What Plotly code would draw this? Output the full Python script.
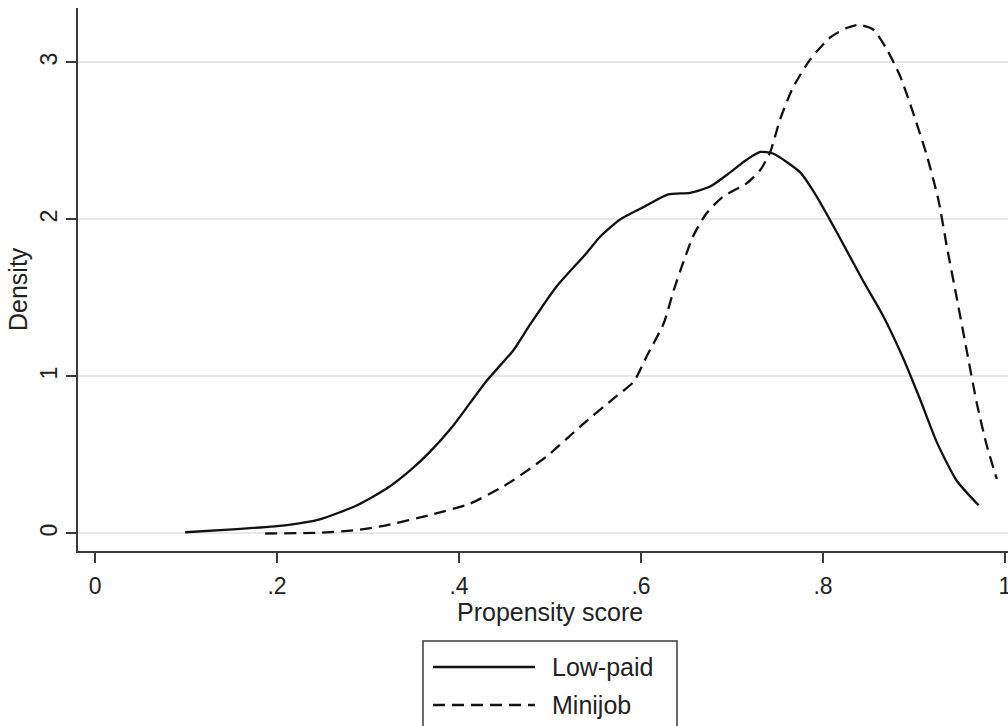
import plotly.graph_objects as go

# ---- data ----
lowpaid_x = [0.099, 0.156, 0.211, 0.247, 0.288, 0.321, 0.346, 0.368, 0.394, 0.412,
             0.430, 0.460, 0.478, 0.507, 0.540, 0.555, 0.577, 0.603, 0.630, 0.654,
             0.676, 0.698, 0.716, 0.731, 0.745, 0.775, 0.793, 0.815, 0.844, 0.866,
             0.888, 0.907, 0.925, 0.947, 0.971]
lowpaid_y = [0.008, 0.028, 0.054, 0.090, 0.180, 0.288, 0.400, 0.520, 0.690, 0.830,
             0.970, 1.169, 1.330, 1.572, 1.785, 1.890, 2.000, 2.080, 2.160, 2.170,
             2.210, 2.300, 2.380, 2.430, 2.420, 2.300, 2.147, 1.920, 1.610, 1.387,
             1.118, 0.850, 0.582, 0.336, 0.180]

minijob_x = [0.187, 0.247, 0.288, 0.321, 0.368, 0.412, 0.445, 0.460, 0.496, 0.533,
             0.570, 0.592, 0.606, 0.625, 0.636, 0.646, 0.657, 0.672, 0.690, 0.716,
             0.731, 0.742, 0.753, 0.767, 0.786, 0.808, 0.826, 0.839, 0.855, 0.870,
             0.885, 0.899, 0.914, 0.927, 0.936, 0.947, 0.958, 0.969, 0.980, 0.991]
minijob_y = [0.000, 0.005, 0.022, 0.054, 0.118, 0.190, 0.288, 0.341, 0.489, 0.680,
             0.861, 0.967, 1.126, 1.339, 1.550, 1.720, 1.890, 2.040, 2.145, 2.230,
             2.315, 2.430, 2.640, 2.840, 3.020, 3.160, 3.220, 3.240, 3.210, 3.085,
             2.910, 2.680, 2.410, 2.120, 1.830, 1.500, 1.163, 0.830, 0.560, 0.347]

x_ticks = [0, 0.2, 0.4, 0.6, 0.8, 1.0]
x_ticklabels = ["0", ".2", ".4", ".6", ".8", "1"]
y_ticks = [0, 1, 2, 3]
y_ticklabels = ["0", "1", "2", "3"]

series_names = ["Low-paid", "Minijob"]
x_title = "Propensity score"
y_title = "Density"

FONT = "Liberation Sans, Arial, sans-serif"
TXT = "#222222"
AX = "#3a3a3a"

fig = go.Figure()
fig.add_trace(go.Scatter(x=lowpaid_x, y=lowpaid_y, mode="lines", name=series_names[0],
                         line=dict(color="#111111", width=2.3, shape="spline", smoothing=0.6),
                         showlegend=False))
fig.add_trace(go.Scatter(x=minijob_x, y=minijob_y, mode="lines", name=series_names[1],
                         line=dict(color="#111111", width=2.3, dash="12px,7px",
                                   shape="spline", smoothing=0.6),
                         showlegend=False))

fig.update_layout(
    template="none",
    width=1008, height=726,
    margin=dict(l=78, r=0, t=8, b=175, pad=0),
    paper_bgcolor="white", plot_bgcolor="white",
    font=dict(family=FONT, color=TXT, size=23),
    showlegend=False,
    xaxis=dict(range=[-0.0187, 1.0033], tickvals=x_ticks, ticktext=x_ticklabels,
               showgrid=False, zeroline=False, showline=True, linecolor=AX, linewidth=1.5,
               ticks="outside", ticklen=10, tickwidth=1.5, tickcolor=AX,
               ticklabeloverflow="allow", ticklabelstandoff=4,
               tickfont=dict(size=23, family=FONT, color=TXT), automargin=False),
    yaxis=dict(range=[-0.1115, 3.347], tickvals=y_ticks, ticktext=y_ticklabels,
               showgrid=True, gridcolor="#e8e8e8", gridwidth=2, zeroline=False,
               showline=True, linecolor=AX, linewidth=1.5,
               ticks="outside", ticklen=10, tickwidth=1.5, tickcolor=AX, tickangle=-90,
               tickfont=dict(size=23, family=FONT, color=TXT), automargin=False),
)

def px_x(p):
    return (p - 78) / 930.0

def px_y(p):
    return (551 - p) / 543.0

annotations = [
    dict(text=x_title, x=px_x(550), y=px_y(612), xref="paper", yref="paper",
         showarrow=False, xanchor="center", yanchor="middle",
         font=dict(size=25, family=FONT, color=TXT)),
    dict(text=y_title, x=px_x(18), y=px_y(289), xref="paper", yref="paper",
         showarrow=False, xanchor="center", yanchor="middle", textangle=-90,
         font=dict(size=25, family=FONT, color=TXT)),
    dict(text=series_names[0], x=px_x(550), y=px_y(667), xref="paper", yref="paper",
         showarrow=False, xanchor="left", yanchor="middle",
         font=dict(size=25, family=FONT, color=TXT)),
    dict(text=series_names[1], x=px_x(550), y=px_y(705), xref="paper", yref="paper",
         showarrow=False, xanchor="left", yanchor="middle",
         font=dict(size=25, family=FONT, color=TXT)),
]
shapes = [
    dict(type="rect", xref="paper", yref="paper", x0=px_x(423), x1=px_x(677),
         y0=px_y(641), y1=px_y(760), line=dict(color=AX, width=1.5), fillcolor="white",
         layer="below"),
    dict(type="line", xref="paper", yref="paper", x0=px_x(433), x1=px_x(535),
         y0=px_y(667), y1=px_y(667), line=dict(color="#111111", width=2.3)),
    dict(type="line", xref="paper", yref="paper", x0=px_x(433), x1=px_x(535),
         y0=px_y(705), y1=px_y(705), line=dict(color="#111111", width=2.3, dash="12px,7px")),
]
fig.update_layout(annotations=annotations, shapes=shapes)

fig.write_html("out.html")
